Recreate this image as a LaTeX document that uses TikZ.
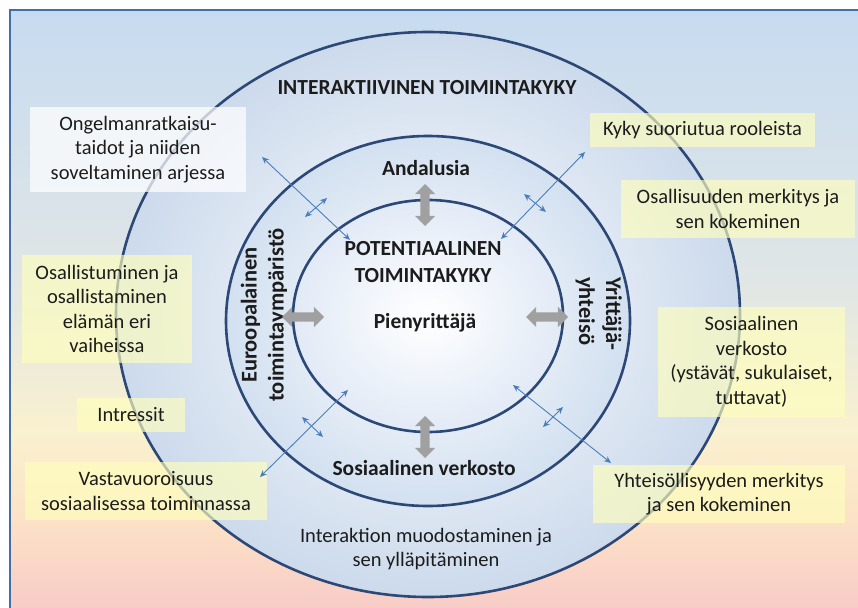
\documentclass[tikz,border=0pt]{standalone}
\usepackage{fontspec}
\setmainfont{Carlito}
\usetikzlibrary{arrows.meta,shapes.arrows}

\definecolor{frameblue}{RGB}{68,110,165}
\definecolor{ringblue}{RGB}{44,72,118}
\definecolor{linkblue}{RGB}{74,126,187}
\definecolor{bgtop}{RGB}{199,219,240}
\definecolor{bgmid}{RGB}{224,230,230}
\definecolor{bgyel}{RGB}{249,241,207}
\definecolor{bgpeach}{RGB}{252,226,198}
\definecolor{bgpink}{RGB}{247,201,199}
\definecolor{outerring}{RGB}{204,218,236}
\definecolor{middlering}{RGB}{210,224,240}
\definecolor{innerring}{RGB}{226,234,246}
\definecolor{notefill}{RGB}{255,255,188}
\definecolor{arrowgrey}{RGB}{160,160,160}
\definecolor{txt}{RGB}{28,28,28}

\newcommand\dgbody{\fontsize{20.5}{24.5}\selectfont}
\newcommand\dglabel{\fontsize{21.5}{26.5}\selectfont\bfseries}
\newcommand\dgside{\fontsize{22.5}{27}\selectfont\bfseries}

\tikzset{
  ring/.style={draw=ringblue, line width=2.6pt},
  note/.style={fill=notefill, fill opacity=0.65, text opacity=1, text=txt,
    inner sep=0pt, align=center, font=\dgbody},
  whitenote/.style={note, fill=white, fill opacity=0.72},
  plaintext/.style={text=txt, inner sep=0pt, align=center, font=\dgbody},
  ringlabel/.style={text=txt, inner sep=0pt, align=center, font=\dglabel},
  sidelabel/.style={text=txt, inner sep=0pt, font=\dgside},
  greyarrow/.style={shape=double arrow, fill=arrowgrey, draw=none,
    inner xsep=0pt, inner ysep=4.5pt, minimum height=42pt, minimum width=20pt,
    double arrow head extend=5.5pt},
  link/.style={draw=linkblue, line width=0.9pt,
    arrows={Stealth[length=7pt,width=6pt]-Stealth[length=7pt,width=6pt]}},
}

\begin{document}
\begin{tikzpicture}[x=1pt,y=-1pt]
\useasboundingbox (0,0) rectangle (858,607);
\fill[white] (0,0) rectangle (858,607);
\clip (0,0) rectangle (858,607);

% background bands inside the frame
\fill[top color=bgtop, bottom color=bgmid] (10,10) rectangle (870,280.5);
\fill[top color=bgmid, bottom color=bgyel] (10,280) rectangle (870,430.5);
\fill[top color=bgyel, bottom color=bgpeach] (10,430) rectangle (870,520.5);
\fill[top color=bgpeach, bottom color=bgpink] (10,520) rectangle (870,620);
\draw[frameblue, line width=2.5pt] (10,10) rectangle (870,620);

% the three rings
\path[ring, inner color=white, outer color=outerring]
  (428,314.5) ellipse [x radius=312pt, y radius=282.5pt];
\path[ring, inner color=white, outer color=middlering]
  (428,321) ellipse [x radius=202pt, y radius=185pt];
\path[ring, inner color=white, outer color=innerring]
  (428,316) ellipse [x radius=135pt, y radius=116pt];

% notes around the rings
\node[whitenote, minimum width=216pt, minimum height=85pt] (ongelma) at (138,149.5)
  {Ongelmanratkaisu-\\taidot ja niiden\\soveltaminen arjessa};
\node[note, minimum width=225pt, minimum height=34pt] (kyky) at (702.5,130)
  {Kyky suoriutua rooleista};
\node[note, minimum width=234pt, minimum height=58pt] (osallisuus) at (738,209)
  {Osallisuuden merkitys ja\\sen kokeminen};
\node[note, minimum width=170pt, minimum height=108pt] (osallistuminen) at (107,309)
  {Osallistuminen ja\\osallistaminen\\elämän eri\\vaiheissa};
\node[note, minimum width=108pt, minimum height=34pt] (intressit) at (131,415)
  {Intressit};
\node[note, minimum width=242pt, minimum height=58pt] (vastavuoro) at (146,491)
  {Vastavuoroisuus\\sosiaalisessa toiminnassa};
\node[note, minimum width=187pt, minimum height=110pt] (verkosto) at (751.5,362)
  {Sosiaalinen\\verkosto\\(ystävät, sukulaiset,\\tuttavat)};
\node[note, minimum width=252pt, minimum height=58pt] (yhteiso) at (719,494)
  {Yhteisöllisyyden merkitys\\ja sen kokeminen};
\node[plaintext] (interaktio) at (426,549)
  {Interaktion muodostaminen ja\\sen ylläpitäminen};

% ring labels
\node[ringlabel, anchor=base] (title) at (427,95) {INTERAKTIIVINEN TOIMINTAKYKY};
\node[ringlabel, anchor=base] (andalusia) at (426,175) {Andalusia};
\node[ringlabel] (potential) at (423,262) {POTENTIAALINEN\\TOIMINTAKYKY};
\node[ringlabel, anchor=base] (pienyrittaja) at (425,328) {Pienyrittäjä};
\node[ringlabel, anchor=base] (sosiaalinen) at (424,475) {Sosiaalinen verkosto};
\node[sidelabel, align=center, rotate=90] (euro) at (264,315)
  {Euroopalainen\\toimintaympäristö};
\node[sidelabel, align=left, rotate=-90, anchor=north west] (yrittaja) at (622,277)
  {Yrittäjä-\\yhteisö};

% grey double arrows across the inner ring
\node[greyarrow, rotate=90] (arrtop) at (425,205) {};
\node[greyarrow, rotate=90] (arrbottom) at (425,437) {};
\node[greyarrow] (arrleft) at (303,317) {};
\node[greyarrow] (arrright) at (547,317) {};

% blue links between the rings
\coordinate (ula) at (262,157);  \coordinate (ulb) at (350,240);
\coordinate (ulc) at (305,217);  \coordinate (uld) at (327,198);
\coordinate (ura) at (585,152);  \coordinate (urb) at (501,239);
\coordinate (urc) at (524,194);  \coordinate (urd) at (546,212);
\coordinate (lla) at (348,390);  \coordinate (llb) at (260,477);
\coordinate (llc) at (302,417);  \coordinate (lld) at (323,437);
\coordinate (lra) at (513,385);  \coordinate (lrb) at (611,463);
\coordinate (lrc) at (543,427);  \coordinate (lrd) at (563,407);
\draw[link] (ula) -- (ulb);
\draw[link] (ulc) -- (uld);
\draw[link] (ura) -- (urb);
\draw[link] (urc) -- (urd);
\draw[link] (lla) -- (llb);
\draw[link] (llc) -- (lld);
\draw[link] (lra) -- (lrb);
\draw[link] (lrc) -- (lrd);
\end{tikzpicture}
\end{document}
